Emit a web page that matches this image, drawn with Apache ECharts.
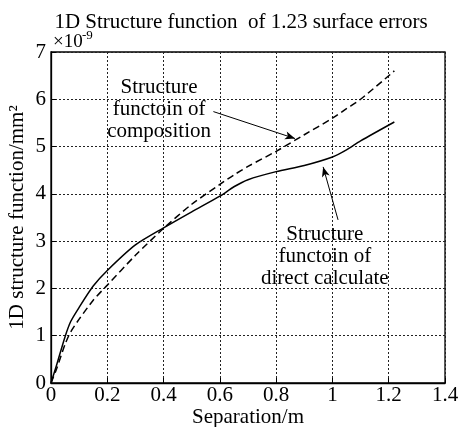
<!DOCTYPE html>
<html><head><meta charset="utf-8">
<script src="https://cdn.jsdelivr.net/npm/echarts@6/dist/echarts.min.js"></script>
<style>html,body{margin:0;padding:0;background:#fff}#c{width:460px;height:427px}</style>
</head><body><div id="c"></div>
<script>
const titleText = '1D Structure function  of 1.23 surface errors';
const xName = 'Separation/m';
const yName = '1D structure function/mm\u00b2';
const xTicks = [0, 0.2, 0.4, 0.6, 0.8, 1, 1.2, 1.4];
const yTicks = [0, 1, 2, 3, 4, 5, 6, 7];
const sepX     = [0, 0.02, 0.05, 0.07, 0.1, 0.15, 0.2, 0.3, 0.4, 0.5, 0.6, 0.65, 0.7, 0.8, 0.9, 1.0, 1.05, 1.1, 1.22];
const directY  = [0, 0.38, 0.98, 1.3, 1.6, 2.05, 2.38, 2.92, 3.28, 3.62, 3.95, 4.15, 4.3, 4.47, 4.6, 4.78, 4.93, 5.12, 5.52];
const composY  = [0, 0.3, 0.82, 1.08, 1.35, 1.75, 2.07, 2.7, 3.27, 3.78, 4.2, 4.4, 4.58, 4.9, 5.25, 5.6, 5.8, 6.0, 6.6];
// annotations: text lines, text anchor (data), arrow start/end (data)
const noteComposLines = ['Structure', 'functoin of', 'composition'];
const noteComposAt = [0.384, 6.47];
const arrowCompos = [[0.577, 5.74], [0.867, 5.17]];
const noteDirectLines = ['Structure', 'functoin of', 'direct calculate'];
const noteDirectAt = [0.973, 3.37];
const arrowDirect = [[1.02, 3.45], [0.967, 4.57]];

const FONT = '"Liberation Serif", "Times New Roman", serif';
const chart = echarts.init(document.getElementById('c'), null, {renderer: 'canvas'});
const pairs = ys => sepX.map((x, i) => [x, ys[i]]);
const fmt = v => String(+(+v).toFixed(1));

chart.setOption({
  animation: false,
  backgroundColor: '#fff',
  grid: {left: 51, right: 15, top: 52, bottom: 44, show: true, borderColor: '#000', borderWidth: 1.3,
         backgroundColor: 'transparent', containLabel: false, outerBoundsMode: 'none'},
  xAxis: {
    type: 'value', min: xTicks[0], max: xTicks[xTicks.length - 1], interval: 0.2,
    name: xName, nameLocation: 'middle', nameGap: 24, nameMoveOverlap: false,
    nameTextStyle: {fontFamily: FONT, fontSize: 21, color: '#000'},
    axisLine: {show: true, onZero: false, lineStyle: {color: '#000', width: 1.3}},
    axisTick: {show: true, inside: true, length: 5, lineStyle: {color: '#000'}},
    axisLabel: {fontFamily: FONT, fontSize: 21, color: '#000', margin: 2, formatter: fmt},
    splitLine: {show: true, lineStyle: {color: '#222', width: 1, type: [2, 2]}}
  },
  yAxis: {
    type: 'value', min: yTicks[0], max: yTicks[yTicks.length - 1], interval: 1,
    name: yName, nameLocation: 'middle', nameGap: 23, nameRotate: 90, nameMoveOverlap: false,
    nameTextStyle: {fontFamily: FONT, fontSize: 21, color: '#000'},
    axisLine: {show: true, onZero: false, lineStyle: {color: '#000', width: 1.3}},
    axisTick: {show: true, inside: true, length: 5, lineStyle: {color: '#000'}},
    axisLabel: {fontFamily: FONT, fontSize: 21, color: '#000', margin: 5, formatter: fmt},
    splitLine: {show: true, lineStyle: {color: '#222', width: 1, type: [2, 2]}}
  },
  series: [
    {
      name: 'direct', type: 'line', data: pairs(directY), smooth: 0.25, showSymbol: false,
      lineStyle: {color: '#000', width: 1.5}, silent: true,
      markLine: {
        silent: true, symbol: ['none', 'arrow'], symbolSize: [6, 10], label: {show: false},
        lineStyle: {color: '#000', width: 1, type: 'solid'},
        data: [
          [{coord: arrowCompos[0]}, {coord: arrowCompos[1]}],
          [{coord: arrowDirect[0]}, {coord: arrowDirect[1]}]
        ]
      }
    },
    {
      name: 'compos', type: 'line', data: pairs(composY), smooth: 0.25, showSymbol: false,
      lineStyle: {color: '#000', width: 1.5, type: [7, 4]}, silent: true
    }
  ]
});

function txt(text, x, y, size, align) {
  return {type: 'text', x: x, y: y,
    style: {text: text, font: size + 'px "Liberation Serif"', fontFamily: 'Liberation Serif', fontSize: size,
            fill: '#000', align: align || 'center'}};
}
function placeNotes() {
  const a = chart.convertToPixel({gridIndex: 0}, noteComposAt);
  const b = chart.convertToPixel({gridIndex: 0}, noteDirectAt);
  const els = [txt(titleText, 241, 12, 21), txt('×10', 53, 33, 19, 'left'), txt('-9', 82, 29, 13, 'left')];
  noteComposLines.forEach((s, i) => els.push(txt(s, a[0], a[1] + i * 22, 21)));
  noteDirectLines.forEach((s, i) => els.push(txt(s, b[0], b[1] + i * 22, 21)));
  chart.setOption({graphic: els});
}
placeNotes();
</script>
</body></html>
